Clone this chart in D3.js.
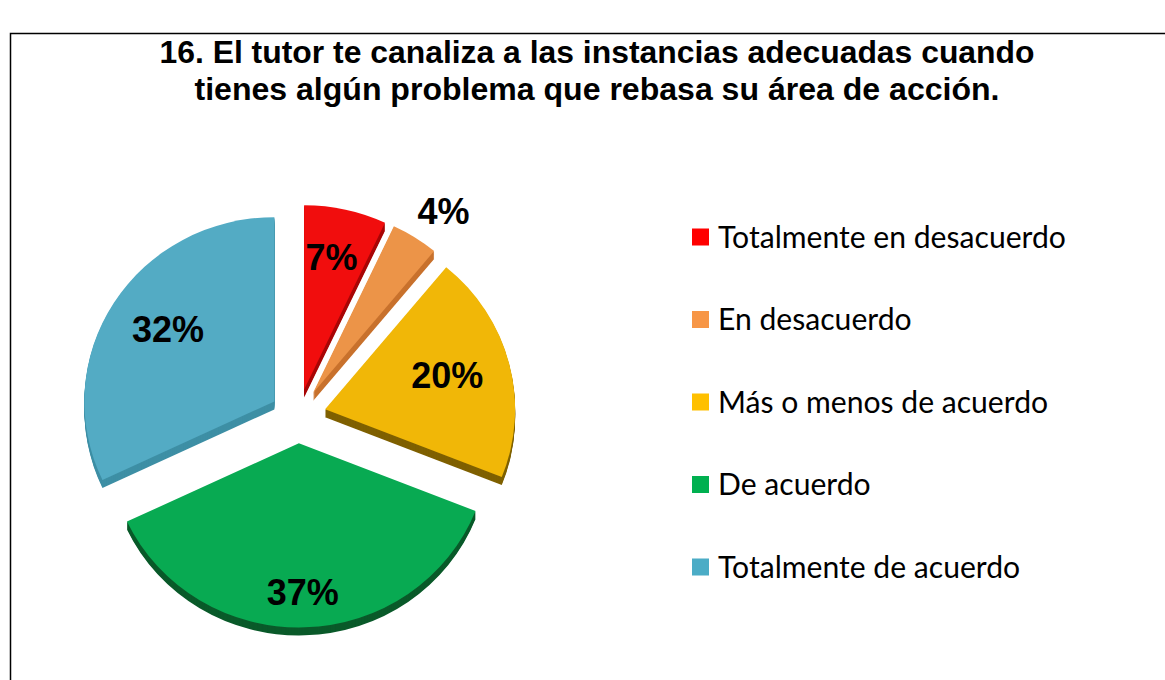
<!DOCTYPE html>
<html>
<head>
<meta charset="utf-8">
<script src="https://cdn.jsdelivr.net/npm/d3@7"></script>
<style>
  body { margin: 0; background: #fff; }
  svg { display: block; }
</style>
</head>
<body>
<svg width="1165" height="680"></svg>
<script>
// chart data
const categories = ["Totalmente en desacuerdo", "En desacuerdo", "Más o menos de acuerdo", "De acuerdo", "Totalmente de acuerdo"];
const values = [7, 4, 20, 37, 32];
const titleLines = ["16. El tutor te canaliza a las instancias adecuadas cuando", "tienes algún problema que rebasa su área de acción."];

const topColors = ["#f10d0d", "#ec9448", "#f1b707", "#08aa52", "#53abc4"];
const sideColors = ["#a80606", "#c8712c", "#7f6000", "#0a5a2a", "#3e8fa5"];
const legendColors = ["#ff0000", "#f79646", "#ffc000", "#00b050", "#4bacc6"];

const width = 1165, height = 680;
const cx = 298, cy = 416, radius = 190, tilt = 0.97, explode = 28, depth = 8;

const svg = d3.select("svg");

// frame
svg.append("rect")
    .attr("x", 10.5).attr("y", 33.5)
    .attr("width", 1200).attr("height", 700)
    .attr("fill", "none")
    .attr("stroke", "#000")
    .attr("stroke-width", 1.5);

// title
const titleWidths = [875, 805];
svg.selectAll("text.title")
    .data(titleLines)
    .enter().append("text")
    .attr("class", "title")
    .attr("x", 597)
    .attr("y", (d, i) => 63 + i * 37)
    .attr("text-anchor", "middle")
    .attr("font-family", "Liberation Sans, Arial, sans-serif")
    .attr("font-weight", "bold")
    .attr("font-size", 31)
    .attr("textLength", (d, i) => titleWidths[i])
    .attr("lengthAdjust", "spacingAndGlyphs")
    .text(d => d);

// pie
const pie = d3.pie().sort(null).value(d => d);
const arcs = pie(values);
const arc = d3.arc().innerRadius(0).outerRadius(radius);

function offset(d) {
    const mid = (d.startAngle + d.endAngle) / 2;
    return [explode * Math.sin(mid), -explode * Math.cos(mid) * tilt];
}

const pieG = svg.append("g");

// side (extrusion)
const layers = d3.range(depth, 0, -1);
layers.forEach(z => {
    pieG.selectAll(null)
        .data(arcs)
        .enter().append("path")
        .attr("transform", d => {
            const [dx, dy] = offset(d);
            return `translate(${cx + dx},${cy + dy + z}) scale(1,${tilt})`;
        })
        .attr("d", arc)
        .attr("fill", (d, i) => sideColors[i]);
});

// top faces
pieG.selectAll("path.top")
    .data(arcs)
    .enter().append("path")
    .attr("class", "top")
    .attr("transform", d => {
        const [dx, dy] = offset(d);
        return `translate(${cx + dx},${cy + dy}) scale(1,${tilt})`;
    })
    .attr("d", arc)
    .attr("fill", (d, i) => topColors[i]);

// labels (lower half drawn a little further out, as in the tilted original)
const labelArc = d3.arc().innerRadius(140).outerRadius(140);
const outerLabelArc = d3.arc().innerRadius(232).outerRadius(232);
pieG.selectAll("text.pct")
    .data(arcs)
    .enter().append("text")
    .attr("class", "pct")
    .attr("transform", d => {
        const [dx, dy] = offset(d);
        if (d.data < 5) {
            const c = outerLabelArc.centroid(d);
            return `translate(${cx + dx + c[0] * 1.05},${cy + dy + c[1] * 0.93})`;
        }
        const c = labelArc.centroid(d);
        const persp = c[1] > 0 ? 1.1 : 1;
        return `translate(${cx + dx + c[0] * 0.9},${cy + dy + c[1] * tilt * persp})`;
    })
    .attr("text-anchor", "middle")
    .attr("dy", "0.36em")
    .attr("font-family", "Liberation Sans, Arial, sans-serif")
    .attr("font-weight", "bold")
    .attr("font-size", 36)
    .attr("fill", "#000")
    .text(d => d.data + "%");

// legend
const legendY = d3.scalePoint().domain(categories).range([237, 567]);
const legend = svg.append("g");
const items = legend.selectAll("g")
    .data(categories)
    .enter().append("g")
    .attr("transform", d => `translate(692,${legendY(d)})`);

items.append("rect")
    .attr("x", 0).attr("y", -8.5)
    .attr("width", 17).attr("height", 17)
    .attr("fill", (d, i) => legendColors[i]);

const legendText = items.append("text")
    .attr("x", 26)
    .attr("dy", "0.35em")
    .attr("font-family", "Lato, Open Sans, sans-serif")
    .attr("font-size", 27)
    .attr("fill", "#000")
    .text(d => d);

// fit legend font so the longest entry spans like the original
const w0 = legendText.nodes()[0].getComputedTextLength();
legendText.attr("font-size", 27 * 348 / w0);
</script>
</body>
</html>
